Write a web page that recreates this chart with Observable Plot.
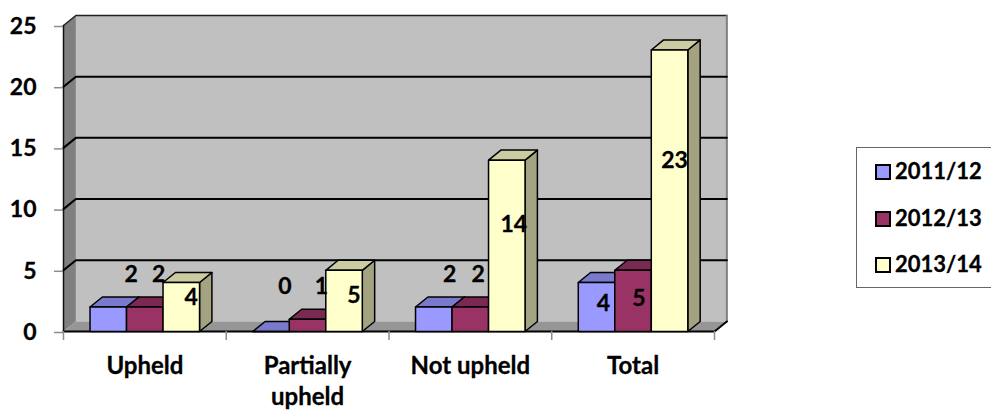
<!DOCTYPE html>
<html>
<head>
<meta charset="utf-8">
<script src="https://cdn.jsdelivr.net/npm/d3@7"></script>
<script src="https://cdn.jsdelivr.net/npm/@observablehq/plot@0.6"></script>
<style>
  html, body { margin: 0; padding: 0; background: #fff; overflow: hidden; }
  #chart { position: relative; width: 991px; height: 410px; overflow: hidden; font-family: Lato, sans-serif; }
  #chart svg { position: absolute; left: 0; top: 0; }
  #legend { position: absolute; left: 856px; top: 147px; width: 150px; height: 141px; box-sizing: border-box;
            border: 1px solid #666; background: #fff; }
  #legend div { position: absolute; left: 18px; font: 700 22px Lato, sans-serif; color: #000; white-space: nowrap; line-height: 26px;
                -webkit-text-stroke: 0.3px #000; }
  #legend i { display: inline-block; width: 12px; height: 12px; border: 2px solid #000; margin-right: 4px; vertical-align: -1px; }
</style>
</head>
<body>
<div id="chart"></div>
<script>
const categories = ["Upheld", "Partially\nupheld", "Not upheld", "Total"];
const seasons = ["2011/12", "2012/13", "2013/14"];
const values2011 = [2, 0, 2, 4];
const values2012 = [2, 1, 2, 5];
const values2013 = [4, 5, 14, 23];
const seriesValues = [values2011, values2012, values2013];
const yTicks = [0, 5, 10, 15, 20, 25];

// Shading for each series: front, top and side faces of a bar.
const palette = [
  {front: "#9999ff", top: "#7a7acc", side: "#5c5c99"},
  {front: "#993366", top: "#7a2952", side: "#5c1f3d"},
  {front: "#ffffcc", top: "#cccca3", side: "#a3a382"}
];

// Oblique depth of the box, expressed in axis units.
const depthX = 0.076;
const depthY = 0.82;
const barStart = 0.163;
const barWidth = 0.2243;
const nCat = categories.length;

const poly = (pts, options) => Plot.line(pts, {x: "0", y: "1", curve: "linear-closed", ...options});
const open = (pts, options) => Plot.line(pts, {x: "0", y: "1", ...options});

// Walls and floor of the box.
const walls = [
  poly([[depthX, depthY], [nCat + depthX, depthY], [nCat + depthX, 25 + depthY], [depthX, 25 + depthY]],
       {fill: "#c0c0c0", stroke: "none"}),
  poly([[0, 0], [depthX, depthY], [depthX, 25 + depthY], [0, 25]], {fill: "#808080", stroke: "none"}),
  poly([[0, 0], [nCat, 0], [nCat + depthX, depthY], [depthX, depthY]], {fill: "#969696", stroke: "none"}),
  open([[0, 25], [depthX, 25 + depthY], [nCat + depthX, 25 + depthY]], {stroke: "#222", strokeWidth: 1.5}),
  open([[nCat + depthX, 25 + depthY], [nCat + depthX, depthY]], {stroke: "#808080", strokeWidth: 2}),
  open([[0, 0], [0, 25]], {stroke: "#111", strokeWidth: 1.5}),
  ...yTicks.slice(1, -1).map(t =>
    open([[0, t], [depthX, t + depthY], [nCat + depthX, t + depthY]], {stroke: "#000", strokeWidth: 2})),
  open([[0, 0], [nCat, 0], [nCat + depthX, depthY]], {stroke: "#000", strokeWidth: 2})
];

// Each bar is three faces, painted left to right so later bars overlap earlier ones.
const bars = categories.flatMap((_, c) => seriesValues.flatMap((vals, s) => {
  const v = vals[c];
  const x0 = c + barStart + s * barWidth;
  const x1 = x0 + barWidth;
  const line = {stroke: "#000", strokeWidth: 1.5};
  return [
    poly([[x1, 0], [x1 + depthX, depthY], [x1 + depthX, v + depthY], [x1, v]], {fill: palette[s].side, ...line}),
    poly([[x0, v], [x1, v], [x1 + depthX, v + depthY], [x0 + depthX, v + depthY]], {fill: palette[s].top, ...line}),
    poly([[x0, 0], [x1, 0], [x1, v], [x0, v]], {fill: palette[s].front, ...line})
  ];
}));

// Value labels sit at nudged spots, relative to each bar's top centre.
const labelNudge = [
  [[23, -32], [14, -32], [10, 15]],
  [[14, -45], [14, -33], [10, 25]],
  [[16, -32], [8, -32], [7, 64]],
  [[7, 21], [6, 28], [5, 111]]
];
const boldText = {fontWeight: 700, fill: "#000", stroke: "#000", strokeWidth: 0.3};
const labels = categories.flatMap((_, c) => seriesValues.map((vals, s) => Plot.text([vals[c]], {
  x: c + barStart + (s + 0.5) * barWidth,
  y: vals[c],
  text: d => String(d),
  dx: labelNudge[c][s][0],
  dy: labelNudge[c][s][1],
  fontSize: 23,
  ...boldText
})));

const plot = Plot.plot({
  width: 991,
  height: 410,
  marginLeft: 63,
  marginRight: 277,
  marginTop: 25,
  marginBottom: 79,
  style: {fontFamily: "Lato, sans-serif", background: "transparent", overflow: "visible"},
  x: {domain: [0, nCat], axis: null},
  y: {domain: [0, 25], axis: null},
  marks: [
    ...walls,
    ...bars,
    ...labels,
    Plot.axisY({ticks: yTicks, anchor: "left", tickSize: 9, tickPadding: 18, stroke: "#8c8c8c", strokeWidth: 1.5,
                label: null, fontSize: 23, fontWeight: 700, dy: 1, fill: "#000", textStroke: "#000", textStrokeWidth: 0.3}),
    Plot.axisX({ticks: d3.range(nCat + 1), anchor: "bottom", tickSize: 9, stroke: "#8c8c8c", strokeWidth: 1.5,
                tickFormat: () => "", label: null}),
    Plot.text(categories, {
      x: (_, i) => i + 0.5,
      frameAnchor: "bottom",
      dy: 20,
      text: d => d,
      lineAnchor: "top",
      lineHeight: 1.3,
      fontSize: 24,
      ...boldText
    })
  ]
});

const chart = document.getElementById("chart");
chart.appendChild(plot);

// Legend box, cut off by the right edge of the page.
const legend = document.createElement("div");
legend.id = "legend";
seasons.forEach((name, i) => {
  const row = document.createElement("div");
  row.style.top = 10 + i * 46.5 + "px";
  const swatch = document.createElement("i");
  swatch.style.background = palette[i].front;
  row.appendChild(swatch);
  row.appendChild(document.createTextNode(name));
  legend.appendChild(row);
});
chart.appendChild(legend);
</script>
</body>
</html>
